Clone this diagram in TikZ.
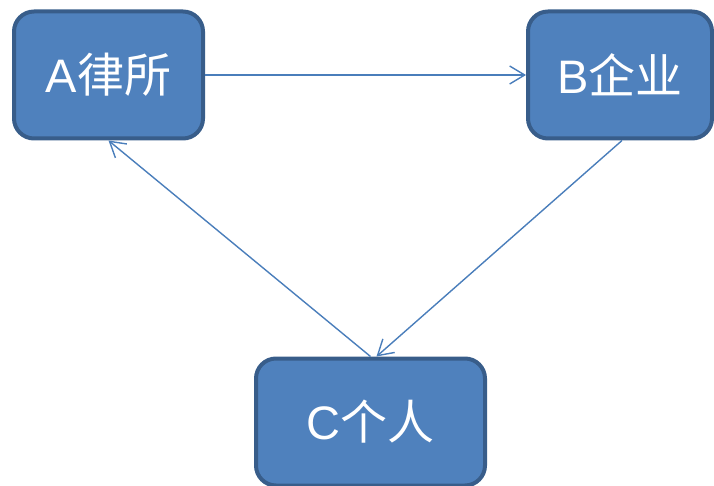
\documentclass[tikz,border=0pt]{standalone}
\usepackage{fontspec}
\setmainfont{Liberation Sans}
\newfontfamily\cjk{Noto Sans CJK SC}
\usetikzlibrary{arrows.meta}
\definecolor{boxfill}{HTML}{4F81BD}
\definecolor{boxline}{HTML}{385D8A}
\definecolor{arrowline}{HTML}{4A7EBB}

\begin{document}
\begin{tikzpicture}[x=1pt, y=-1pt,
    party/.style={rectangle, rounded corners=20pt, draw=boxline, line width=4pt, fill=boxfill,
        text=white, font=\fontsize{47}{52}\selectfont},
    link/.style={-{Straight Barb[length=15pt,width=18pt]}, line width=1.4pt, arrowline}]
        \clip (0,0) rectangle (714,486);
        \node[party, minimum width=189pt, minimum height=127pt] (a) at (108.5, 75) {A{\cjk 律所}};
        \node[party, minimum width=184pt, minimum height=127pt] (b) at (620, 75) {B{\cjk 企业}};
        \node[party, minimum width=229pt, minimum height=127pt] (c) at (370.5, 422) {C{\cjk 个人}};
        \draw[link] (a.east) -- (b.west);
        \draw[link] ([xshift=2pt]b.south) -- ([xshift=6pt]c.north);
        \draw[link] (c.north) -- (a.south);
    \end{tikzpicture}
\end{document}
